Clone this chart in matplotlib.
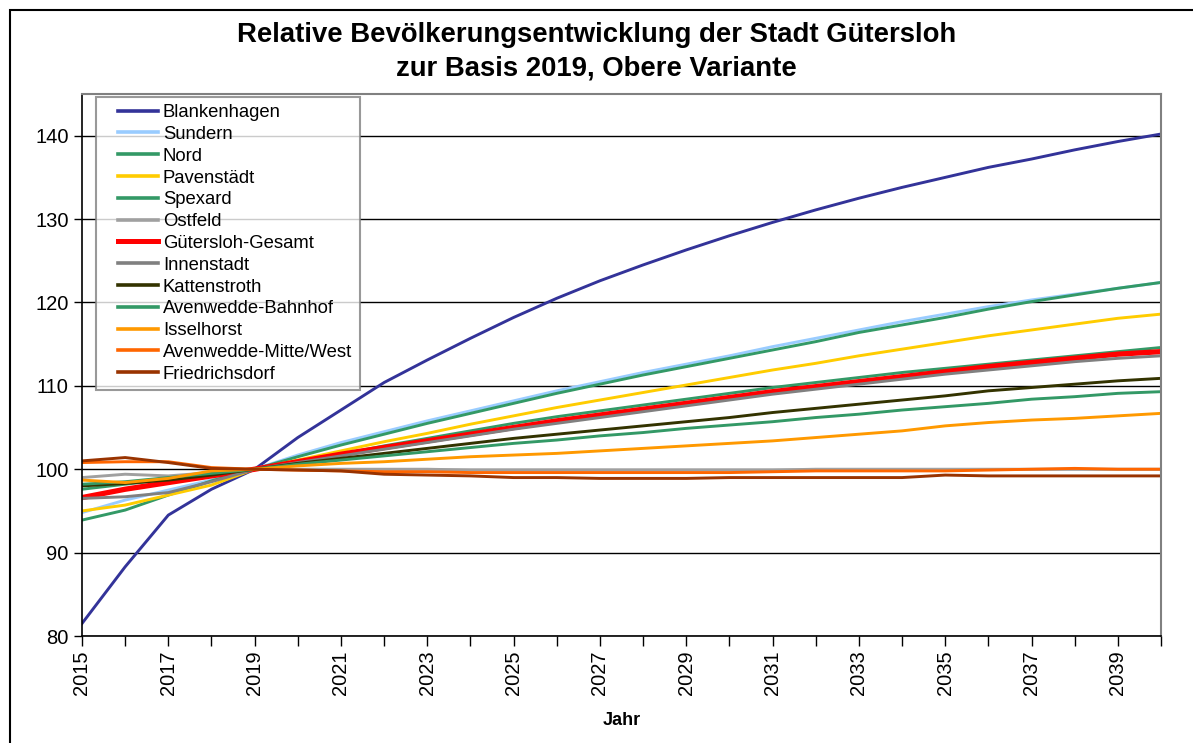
import numpy as np
import matplotlib
matplotlib.use("Agg")
import matplotlib.pyplot as plt
from matplotlib.patches import Rectangle
from matplotlib.lines import Line2D
from matplotlib.legend_handler import HandlerLine2D

plt.rcParams['font.family'] = ['Liberation Sans', 'DejaVu Sans']

years = list(range(2015, 2041))

blankenhagen = [81.5, 88.3, 94.5, 97.6, 100, 103.8, 107.1, 110.4, 113.1, 115.7, 118.2, 120.5, 122.6,
                124.5, 126.3, 128.0, 129.6, 131.1, 132.5, 133.8, 135.0, 136.2, 137.2, 138.3, 139.3, 140.2]
sundern = [94.8, 96.3, 97.5, 98.7, 100, 101.7, 103.2, 104.5, 105.8, 107.0, 108.2, 109.4, 110.5,
           111.6, 112.6, 113.6, 114.7, 115.7, 116.7, 117.7, 118.6, 119.5, 120.3, 121.0, 121.7, 122.4]
nord = [93.9, 95.1, 96.9, 98.6, 100, 101.5, 102.9, 104.2, 105.5, 106.7, 107.9, 109.1, 110.2,
        111.3, 112.3, 113.3, 114.3, 115.3, 116.4, 117.3, 118.2, 119.2, 120.1, 120.9, 121.7, 122.4]
pavenstaedt = [95.0, 95.7, 96.9, 98.1, 100, 101.1, 102.2, 103.3, 104.3, 105.4, 106.4, 107.4, 108.3,
               109.2, 110.1, 111.0, 111.9, 112.7, 113.6, 114.4, 115.2, 116.0, 116.7, 117.4, 118.1, 118.6]
spexard = [97.6, 98.2, 98.8, 99.4, 100, 100.9, 101.8, 102.8, 103.7, 104.6, 105.5, 106.3, 107.0,
           107.7, 108.4, 109.1, 109.8, 110.4, 111.0, 111.6, 112.1, 112.6, 113.1, 113.6, 114.1, 114.6]
ostfeld = [99.0, 99.4, 99.2, 99.6, 100, 100.0, 100.0, 100.0, 100.0, 99.9, 99.9, 99.9, 99.9,
           99.9, 99.9, 99.9, 99.9, 100.0, 100.0, 100.0, 100.0, 100.0, 100.0, 100.0, 100.0, 100.0]
gesamt = [96.6, 97.6, 98.4, 99.2, 100, 100.9, 101.8, 102.6, 103.4, 104.2, 105.0, 105.8, 106.5,
          107.2, 107.9, 108.6, 109.3, 109.9, 110.5, 111.1, 111.7, 112.3, 112.8, 113.3, 113.8, 114.1]
innenstadt = [96.5, 96.7, 97.2, 98.5, 100, 100.8, 101.6, 102.4, 103.2, 104.0, 104.8, 105.5, 106.2,
              106.9, 107.6, 108.3, 109.0, 109.6, 110.2, 110.8, 111.4, 111.9, 112.4, 112.9, 113.3, 113.6]
kattenstroth = [98.0, 98.3, 98.7, 99.3, 100, 100.7, 101.3, 101.9, 102.5, 103.1, 103.7, 104.2, 104.7,
                105.2, 105.7, 106.2, 106.8, 107.3, 107.8, 108.3, 108.8, 109.4, 109.8, 110.2, 110.6, 110.9]
av_bahnhof = [98.2, 98.5, 99.0, 99.5, 100, 100.6, 101.1, 101.6, 102.1, 102.6, 103.1, 103.5, 104.0,
              104.4, 104.9, 105.3, 105.7, 106.2, 106.6, 107.1, 107.5, 107.9, 108.4, 108.7, 109.1, 109.3]
isselhorst = [98.7, 98.4, 98.9, 99.8, 100, 100.4, 100.7, 100.9, 101.2, 101.5, 101.7, 101.9, 102.2,
              102.5, 102.8, 103.1, 103.4, 103.8, 104.2, 104.6, 105.2, 105.6, 105.9, 106.1, 106.4, 106.7]
av_mitte = [100.8, 100.9, 100.9, 100.2, 100, 99.9, 99.8, 99.7, 99.7, 99.6, 99.6, 99.6, 99.6,
            99.6, 99.6, 99.6, 99.7, 99.8, 99.8, 99.8, 99.8, 99.9, 100.0, 100.1, 100.0, 100.0]
friedrichsdorf = [101.0, 101.4, 100.8, 100.1, 100, 99.9, 99.8, 99.4, 99.3, 99.2, 99.0, 99.0, 98.9,
                  98.9, 98.9, 99.0, 99.0, 99.0, 99.0, 99.0, 99.3, 99.2, 99.2, 99.2, 99.2, 99.2]

series = [
    ("Blankenhagen", blankenhagen, "#333399", 2.1),
    ("Sundern", sundern, "#99CCFF", 2.1),
    ("Nord", nord, "#339966", 2.1),
    ("Pavenstädt", pavenstaedt, "#FFCC00", 2.1),
    ("Spexard", spexard, "#339966", 2.1),
    ("Ostfeld", ostfeld, "#A0A0A0", 2.1),
    ("Gütersloh-Gesamt", gesamt, "#FF0000", 3.8),
    ("Innenstadt", innenstadt, "#808080", 2.1),
    ("Kattenstroth", kattenstroth, "#333300", 2.1),
    ("Avenwedde-Bahnhof", av_bahnhof, "#339966", 2.1),
    ("Isselhorst", isselhorst, "#FF9900", 2.1),
    ("Avenwedde-Mitte/West", av_mitte, "#FF6600", 2.1),
    ("Friedrichsdorf", friedrichsdorf, "#993300", 2.1),
]

fig = plt.figure(figsize=(11.93, 7.43), dpi=100)
W, H = 1193, 743
ax = fig.add_axes([82 / W, 1 - 636 / H, (1161 - 82) / W, (636 - 94) / H])

for name, vals, col, lw in series:
    ax.plot(years, vals, color=col, lw=lw, label=name, solid_joinstyle='round')

ax.set_xlim(2015, 2040)
ax.set_ylim(80, 145)
ax.set_yticks(range(80, 141, 10))
ax.set_xticks(years)
ax.set_xticklabels([str(y) if (y - 2015) % 2 == 0 else "" for y in years],
                   rotation=90, fontsize=14.5)
ax.tick_params(axis='y', labelsize=14.5, direction='out', length=6, width=1, colors='black')
ax.tick_params(axis='x', direction='out', length=7, width=1)
ax.yaxis.grid(True, color='black', lw=1.0)
ax.set_axisbelow(True)

for s in ['left', 'bottom']:
    ax.spines[s].set_color('black')
    ax.spines[s].set_linewidth(1.2)
for s in ['top', 'right']:
    ax.spines[s].set_color('#808080')
    ax.spines[s].set_linewidth(1.5)

ax.set_xlabel("Jahr", fontsize=13, fontweight='bold', labelpad=12)

leg = ax.legend(loc='upper left', bbox_to_anchor=(0.013, 0.995), fontsize=13.3,
                frameon=True, fancybox=False, borderaxespad=0, borderpad=0.4,
                handlelength=2.95, handletextpad=0.27, labelspacing=0.26,
                handler_map={Line2D: HandlerLine2D(xpad=0.79)})
leg.get_frame().set_edgecolor('#808080')
leg.get_frame().set_linewidth(1.5)
for line in leg.get_lines():
    line.set_linewidth(2.6)
leg.get_lines()[6].set_linewidth(3.6)

fig.text(0.5, 1 - 52 / H, "Relative Bevölkerungsentwicklung der Stadt Gütersloh\nzur Basis 2019, Obere Variante",
         ha='center', va='center', fontsize=19.8, fontweight='bold', linespacing=1.35)

fig.patches.append(Rectangle((10 / W, -0.1), 2, 1.1 - 10 / H, transform=fig.transFigure,
                             fill=False, ec='black', lw=1.5))

fig.savefig("out.png", dpi=100)
